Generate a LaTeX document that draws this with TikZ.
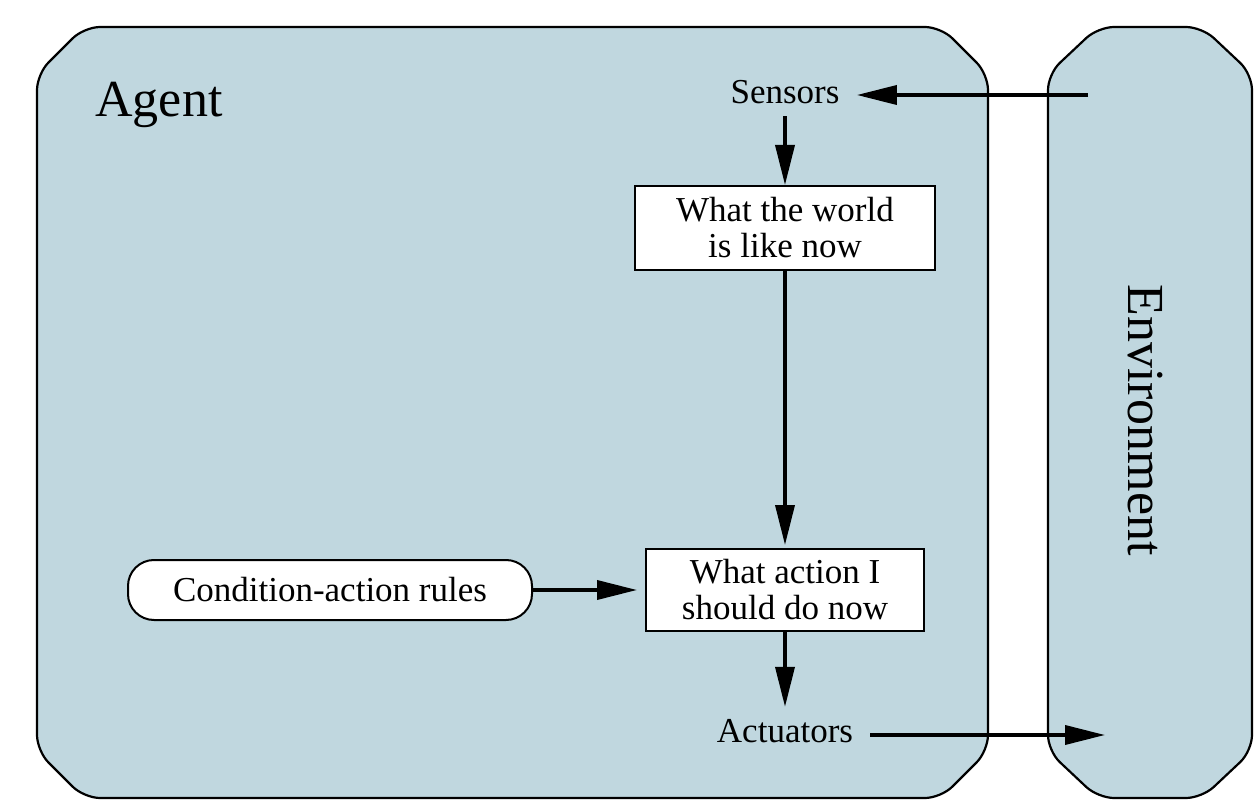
\documentclass[tikz,border=0pt]{standalone}
\usepackage{fontspec}
\setmainfont{Liberation Serif}
\usetikzlibrary{arrows.meta,positioning}
\definecolor{agentblue}{RGB}{192,215,223}
\begin{document}
\begin{tikzpicture}[x=0.5pt,y=-0.5pt,
	panel/.style={draw=black,line width=1.1pt,fill=agentblue,rounded corners=8pt},
	label/.style={font=\fontsize{17.5}{18}\selectfont,inner xsep=8.5pt,inner ysep=6pt},
	state/.style={draw=black,line width=1pt,fill=white,font=\fontsize{17.5}{18}\selectfont,align=center,inner sep=0pt},
	rules/.style={draw=black,line width=1pt,fill=white,font=\fontsize{17.5}{18}\selectfont,rounded corners=13pt,minimum width=202pt,minimum height=30pt},
	flow/.style={line width=1.8pt,-{Triangle[length=20pt,width=9.5pt]}}]
	\useasboundingbox (0,0) rectangle (1260,808);
	% agent and environment panels
	\draw[panel] (37,74) -- (84,27) -- (941,27) -- (988,74) -- (988,751) -- (941,798) -- (84,798) -- (37,751) -- cycle;
	\draw[panel] (1048,74) -- (1098,27) -- (1202,27) -- (1252,74) -- (1252,751) -- (1202,798) -- (1098,798) -- (1048,751) -- cycle;
	\node[font=\fontsize{26}{28}\selectfont,anchor=base west,inner sep=0pt] (agent) at (95,117) {Agent};
	\node[font=\fontsize{26}{28}\selectfont,rotate=-90,inner sep=0pt] (env) at (1145,420) {Environment};
	% nodes
	\node[label] (sensors) at (785,92) {Sensors};
	\node[state,minimum width=150pt,minimum height=42pt] (world) at (785,228) {What the world\\is like now};
	\node[state,minimum width=139pt,minimum height=41pt] (action) at (785,590) {What action I\\should do now};
	\node[rules] (rules) at (330,590) {Condition-action rules};
	\node[label] (actuators) at (785,731) {Actuators};
	\coordinate (percept) at (1088,95);
	\coordinate (effect) at (1105,735);
	% connectors
	\draw[flow] (percept) -- (percept -| sensors.east);
	\draw[flow] (sensors) -- (world);
	\draw[flow,shorten >=1.5pt] (world) -- (action);
	\draw[flow,shorten >=4pt] (rules) -- (action);
	\draw[flow] (action) -- (actuators);
	\draw[flow] (actuators.east |- effect) -- (effect);
\end{tikzpicture}
\end{document}
